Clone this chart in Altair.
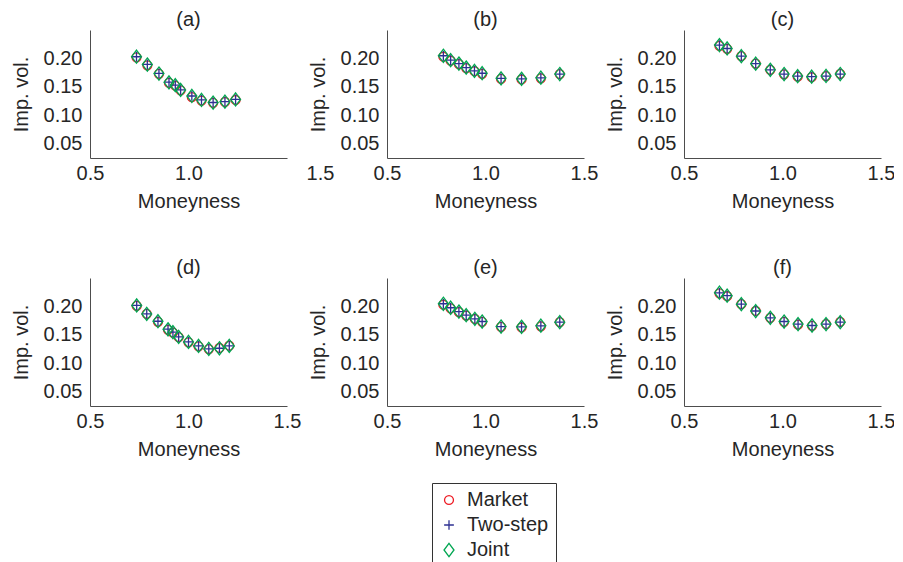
import altair as alt
import pandas as pd

FONT = "Liberation Sans"
SERIES = ["Market", "Two-step", "Joint"]
COLORS = ["#ee1c25", "#2e3192", "#00a651"]
SHAPES = ["circle", "M-1,0H1M0,-1V1", "M0,-1.25L0.95,0L0,1.25L-0.95,0Z"]
MARK_SIZES = [80, 110, 110]
TITLES = ["(a)", "(b)", "(c)", "(d)", "(e)", "(f)"]
X_TICKS = [0.5, 1.0, 1.5]
Y_TICKS = [0.05, 0.10, 0.15, 0.20]

# panel (a)
a_m = [0.736, 0.791, 0.850, 0.901, 0.933, 0.960, 1.017, 1.066, 1.125, 1.185, 1.239]
a_market = [0.202, 0.188, 0.173, 0.157, 0.152, 0.144, 0.132, 0.126, 0.122, 0.1235, 0.127]
a_two = [0.2030, 0.1895, 0.1737, 0.1582, 0.1530, 0.1448, 0.1340, 0.1270, 0.1226, 0.1240, 0.1280]
a_joint = [0.2030, 0.1893, 0.1735, 0.1580, 0.1530, 0.1446, 0.1340, 0.1270, 0.1224, 0.1240, 0.1280]
# panel (b)
b_m = [0.786, 0.823, 0.865, 0.902, 0.944, 0.983, 1.079, 1.183, 1.281, 1.377]
b_market = [0.2030, 0.1960, 0.1900, 0.1830, 0.1775, 0.1730, 0.1640, 0.1630, 0.1650, 0.1725]
b_two = [0.2047, 0.1970, 0.1910, 0.1840, 0.1780, 0.1740, 0.1650, 0.1640, 0.1660, 0.1726]
b_joint = [0.2047, 0.1970, 0.1910, 0.1840, 0.1780, 0.1740, 0.1650, 0.1642, 0.1662, 0.1726]
# panel (c)
c_m = [0.680, 0.719, 0.791, 0.864, 0.938, 1.008, 1.077, 1.148, 1.221, 1.293]
c_market = [0.2220, 0.2170, 0.2040, 0.1910, 0.1800, 0.1720, 0.1680, 0.1670, 0.1690, 0.1730]
c_two = [0.2233, 0.2175, 0.2040, 0.1910, 0.1800, 0.1726, 0.1690, 0.1680, 0.1690, 0.1726]
c_joint = [0.2235, 0.2175, 0.2040, 0.1908, 0.1800, 0.1726, 0.1690, 0.1680, 0.1692, 0.1726]
# panel (d)
d_m = [0.737, 0.788, 0.845, 0.896, 0.921, 0.950, 1.000, 1.051, 1.103, 1.157, 1.207]
d_market = [0.2010, 0.1870, 0.1730, 0.1590, 0.1540, 0.1460, 0.1370, 0.1300, 0.1250, 0.1270, 0.1310]
d_two = [0.2018, 0.1870, 0.1740, 0.1600, 0.1547, 0.1465, 0.1376, 0.1306, 0.1253, 0.1265, 0.1306]
d_joint = [0.2018, 0.1868, 0.1740, 0.1598, 0.1547, 0.1465, 0.1376, 0.1306, 0.1253, 0.1265, 0.1306]
# panel (e)
e_m = [0.786, 0.823, 0.865, 0.902, 0.946, 0.983, 1.079, 1.183, 1.281, 1.377]
e_market = [0.2030, 0.1965, 0.1900, 0.1840, 0.1780, 0.1730, 0.1640, 0.1630, 0.1650, 0.1725]
e_two = [0.2047, 0.1977, 0.1910, 0.1847, 0.1780, 0.1735, 0.1647, 0.1640, 0.1660, 0.1724]
e_joint = [0.2047, 0.1977, 0.1910, 0.1847, 0.1782, 0.1735, 0.1647, 0.1642, 0.1662, 0.1724]
# panel (f)
f_m = [0.680, 0.719, 0.791, 0.864, 0.938, 1.008, 1.079, 1.150, 1.221, 1.293]
f_market = [0.2230, 0.2180, 0.2040, 0.1920, 0.1800, 0.1730, 0.1680, 0.1660, 0.1690, 0.1730]
f_two = [0.2240, 0.2190, 0.2040, 0.1920, 0.1800, 0.1735, 0.1690, 0.1665, 0.1690, 0.1724]
f_joint = [0.2242, 0.2190, 0.2040, 0.1918, 0.1800, 0.1735, 0.1690, 0.1665, 0.1690, 0.1724]

PANELS = [
    (a_m, a_market, a_two, a_joint),
    (b_m, b_market, b_two, b_joint),
    (c_m, c_market, c_two, c_joint),
    (d_m, d_market, d_two, d_joint),
    (e_m, e_market, e_two, e_joint),
    (f_m, f_market, f_two, f_joint),
]

rows = []
for title, (mon, mk, ts, jt) in zip(TITLES, PANELS):
    for name, vals in zip(SERIES, (mk, ts, jt)):
        for x, y in zip(mon, vals):
            rows.append({"panel": title, "m": x, "iv": y, "series": name})
df = pd.DataFrame(rows)

TEXT = "#262626"
AXISC = "#4d4d4d"
FS = 20

color_scale = alt.Scale(domain=SERIES, range=COLORS)
shape_scale = alt.Scale(domain=SERIES, range=SHAPES)
size_scale = alt.Scale(domain=SERIES, range=MARK_SIZES)


def make_panel(i):
    title = TITLES[i]
    if i == 0:
        loff = {"condition": {"test": "datum.value == 1.5", "value": 33}, "value": 0}
    else:
        loff = 0
    xaxis = alt.Axis(
        values=X_TICKS, format=".1f", title="Moneyness", grid=False, ticks=False,
        labelFlush=False, labelOverlap=False, labelPadding=5, labelOffset=loff,
        labelFont=FONT, labelFontSize=FS, labelColor=TEXT,
        titleFont=FONT, titleFontSize=FS, titleFontWeight="normal", titleColor=TEXT,
        titlePadding=8, domainColor=AXISC, domainWidth=1,
    )
    yaxis = alt.Axis(
        values=Y_TICKS, format=".2f", title="Imp. vol.", grid=False, ticks=False,
        labelPadding=8, labelFont=FONT, labelFontSize=FS, labelColor=TEXT,
        titleFont=FONT, titleFontSize=FS, titleFontWeight="normal", titleColor=TEXT,
        titlePadding=12, domainColor=AXISC, domainWidth=1,
    )
    return (
        alt.Chart(df)
        .transform_filter(alt.datum.panel == title)
        .mark_point(filled=False, strokeWidth=1.3, opacity=1)
        .encode(
            x=alt.X("m:Q", scale=alt.Scale(domain=[0.5, 1.5], nice=False, zero=False), axis=xaxis),
            y=alt.Y("iv:Q", scale=alt.Scale(domain=[0.025, 0.25], nice=False, zero=False), axis=yaxis),
            color=alt.Color("series:N", scale=color_scale, legend=alt.Legend(title=None)),
            shape=alt.Shape("series:N", scale=shape_scale, legend=alt.Legend(title=None)),
            size=alt.Size("series:N", scale=size_scale, legend=None),
        )
        .properties(
            width=197,
            height=128,
            title=alt.Title(title, font=FONT, fontSize=FS, fontWeight="normal",
                            color=TEXT, baseline="bottom", offset=-20),
        )
    )


chart = (
    alt.concat(*[make_panel(i) for i in range(6)], columns=3,
               spacing={"row": 120, "column": 100}, bounds="flush")
    .properties(padding={"left": 3, "top": 2, "right": -1, "bottom": 0}, background="white")
    .configure_view(strokeWidth=0)
    .configure_legend(
        orient="none", legendX=342, legendY=453, direction="vertical",
        strokeColor="#333333", fillColor="#ffffff", padding=7,
        labelFont=FONT, labelFontSize=FS, labelColor=TEXT,
        symbolSize=100, symbolStrokeWidth=1.3, rowPadding=5, labelOffset=8,
    )
)

chart.save("out.html", embed_options={"renderer": "svg", "actions": False})
